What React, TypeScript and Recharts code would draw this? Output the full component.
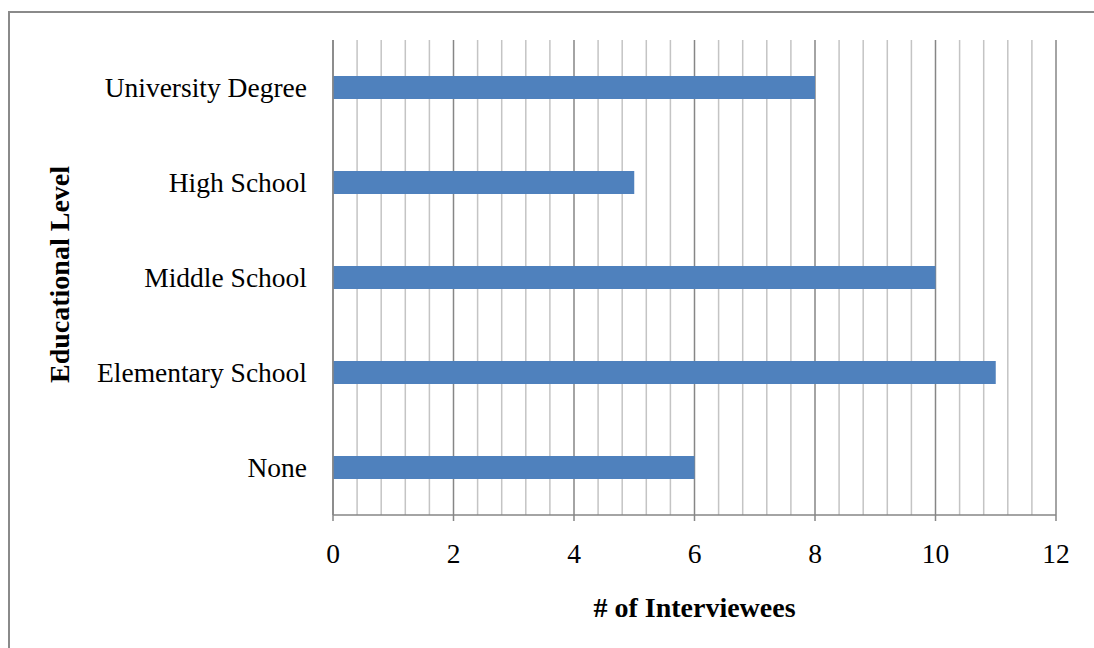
import { Bar, BarChart, CartesianGrid, XAxis, YAxis } from 'recharts';

const levels = ['University Degree', 'High School', 'Middle School', 'Elementary School', 'None'];
const interviewees = [8, 5, 10, 11, 6];
const majorTicks = [0, 2, 4, 6, 8, 10, 12];
const minorTicks = [
  0.4, 0.8, 1.2, 1.6, 2.4, 2.8, 3.2, 3.6, 4.4, 4.8, 5.2, 5.6,
  6.4, 6.8, 7.2, 7.6, 8.4, 8.8, 9.2, 9.6, 10.4, 10.8, 11.2, 11.6,
];
const allTicks = [...majorTicks, ...minorTicks].sort((a, b) => a - b);

const data = levels.map((level, i) => ({ level, count: interviewees[i] }));

const FONT = '"Liberation Serif", "Times New Roman", serif';
const AXIS_GRAY = '#868686';
const MINOR_GRAY = '#c4c4c4';

const isMajor = (v: number) => majorTicks.includes(v);

// gridline colour depends on whether the tick is a major one
function GridLine(props: any) {
  const { x1, y1, x2, y2, index } = props;
  const major = isMajor(allTicks[index]);
  return <line x1={x1} y1={y1} x2={x2} y2={y2} stroke={major ? AXIS_GRAY : MINOR_GRAY} strokeWidth={1.5} />;
}

// tick mark and label only on the major values
function XTick({ x, y, payload }: any) {
  if (!isMajor(payload.value)) return null;
  return (
    <g>
      <line x1={x} y1={y} x2={x} y2={y + 6} stroke={AXIS_GRAY} strokeWidth={1.5} />
      <text x={x} y={y + 48} textAnchor="middle" fontFamily={FONT} fontSize={27.5} fill="#000">
        {payload.value}
      </text>
    </g>
  );
}

function XTitle({ viewBox }: any) {
  const { x, y, width } = viewBox;
  return (
    <text x={x + width / 2} y={y + 102} textAnchor="middle" fontFamily={FONT} fontSize={28} fontWeight="bold" fill="#000">
      # of Interviewees
    </text>
  );
}

function YTitle({ viewBox }: any) {
  const { x, y, height } = viewBox;
  const cx = x + 69;
  const cy = y + height / 2 - 3;
  return (
    <text x={cx} y={cy} transform={`rotate(-90 ${cx} ${cy})`} textAnchor="middle" fontFamily={FONT} fontSize={28} fontWeight="bold" fill="#000">
      Educational Level
    </text>
  );
}

export default function App() {
  return (
    <div style={{ position: 'absolute', left: 0, top: 0, width: 1094, height: 648, overflow: 'hidden', background: '#fff' }}>
      <div
        style={{
          position: 'absolute',
          left: 8,
          top: 11,
          width: 1120,
          height: 700,
          border: '2px solid #8a8a8a',
          boxSizing: 'border-box',
        }}
      />
      <BarChart
        width={1094}
        height={648}
        data={data}
        layout="vertical"
        margin={{ top: 40, right: 38, bottom: 0, left: 0 }}
        style={{ position: 'absolute', left: 0, top: 0 }}
      >
        <CartesianGrid horizontal={false} vertical={GridLine} />
        <XAxis
          type="number"
          domain={[0, 12]}
          ticks={allTicks}
          interval={0}
          height={133}
          stroke={AXIS_GRAY}
          strokeWidth={1.5}
          tickLine={false}
          tickSize={0}
          tickMargin={0}
          tick={XTick}
          label={{ content: XTitle }}
        />
        <YAxis
          type="category"
          dataKey="level"
          width={333}
          stroke={AXIS_GRAY}
          strokeWidth={1.5}
          tickLine={false}
          tickSize={0}
          tickMargin={26}
          tick={{ fill: '#000', fontSize: 27.5, fontFamily: FONT }}
          label={{ content: YTitle }}
        />
        <Bar dataKey="count" fill="#4f81bd" barSize={23} isAnimationActive={false} />
      </BarChart>
    </div>
  );
}
